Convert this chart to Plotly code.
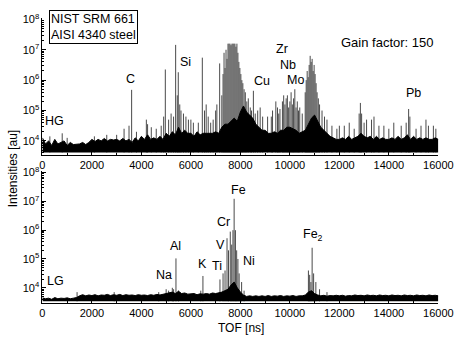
import plotly.graph_objects as go

W, H = 469, 339

# ---------------- data (log10 of intensity, TOF in ns) ----------------
GRID_STEP = 125
top_noise_log = [4.1, 3.9, 4.0, 3.85, 4.05, 3.9, 3.95, 4.0, 3.85, 3.95, 3.88, 3.9,
                 3.9, 3.95, 3.88, 3.95, 4.05, 3.98, 4.05, 4.0, 4.08, 4.0, 4.05, 4.03,
                 4.05, 4.0, 4.08, 4.0, 4.05, 3.95, 4.1, 4.0, 4.15, 4.05, 4.2, 4.05,
                 4.1, 4.05, 4.15, 4.05, 4.25, 4.15, 4.3, 4.2, 4.45, 4.25, 4.35, 4.25,
                 4.25, 4.15, 4.3, 4.2, 4.25, 4.25, 4.25, 4.25, 4.3, 4.25, 4.45, 4.55,
                 4.55, 4.65, 4.75, 4.65, 4.95, 5.15, 4.95, 4.85, 4.75, 4.55, 4.45, 4.35,
                 4.35, 4.25, 4.25, 4.3, 4.25, 4.35, 4.35, 4.45, 4.45, 4.4, 4.35, 4.25,
                 4.3, 4.35, 4.55, 4.75, 4.85, 4.65, 4.45, 4.35, 4.25, 4.15, 4.1, 4.05,
                 4.05, 4.1, 4.05, 4.15, 4.05, 4.1, 4.15, 4.25, 4.15, 4.1, 4.15, 4.05,
                 4.15, 4.05, 4.1, 4.05, 4.05, 4.1, 4.05, 4.15, 4.05, 4.1, 4.2, 4.05,
                 4.15, 4.05, 4.1, 4.05, 4.1, 4.05, 4.05, 4.1, 4.05]
top_floor_log = 3.62

top_peak_tof = [300, 800, 1000, 2100, 2600, 3000, 3300, 3500, 3605, 3800, 4200, 4250, 4400,
                4600, 4800, 4900, 4967, 5100, 5200, 5300, 5384, 5450, 5490, 5550, 5600, 5700,
                5800, 5900, 6000, 6100, 6300, 6462, 6550, 6618, 6700, 6800, 6900, 7000, 7050,
                7163, 7250, 7300, 7340, 7380, 7420, 7460, 7500, 7540, 7580, 7620, 7660, 7700,
                7740, 7780, 7820, 7860, 7900, 7940, 7980, 8020, 8060, 8100, 8150, 8200, 8260,
                8320, 8400, 8450, 8526, 8600, 8700, 8800, 8900, 9100, 9250, 9300, 9433, 9500,
                9550, 9600, 9700, 9750, 9800, 9850, 9900, 9950, 10000, 10050, 10100, 10150,
                10200, 10250, 10300, 10350, 10400, 10500, 10620, 10660, 10700, 10740, 10780,
                10820, 10860, 10900, 10940, 10980, 11020, 11060, 11100, 11150, 11200, 11300,
                11400, 11500, 11700, 11900, 12000, 12200, 12400, 12600, 12800, 12850, 12900,
                13000, 13100, 13300, 13400, 13600, 13800, 14000, 14200, 14500, 14700, 14800,
                14850, 15100, 15300, 15500, 15600, 15800, 15900]
top_peak_log = [4.15, 4.25, 4.1, 4.15, 4.2, 4.2, 4.4, 4.5, 5.68, 4.3, 4.7, 4.55, 4.45,
                4.4, 4.5, 4.8, 6.35, 4.7, 4.9, 4.8, 7.16, 5.5, 6.26, 5.2, 5.0, 4.9,
                4.8, 4.7, 4.7, 4.6, 4.6, 6.74, 5.0, 5.2, 4.8, 4.6, 4.7, 5.0, 5.2,
                6.55, 5.5, 6.2, 6.9, 6.4, 7.0, 6.7, 7.2, 7.2, 7.2, 7.15, 7.2, 7.2,
                7.2, 7.2, 7.1, 7.2, 6.9, 6.6, 6.4, 6.2, 6.0, 5.9, 5.7, 5.6, 5.3,
                5.4, 5.1, 5.0, 5.65, 4.9, 5.0, 5.1, 4.8, 4.8, 4.8, 5.0, 5.3, 5.1,
                4.9, 5.05, 5.3, 5.5, 5.2, 5.4, 5.5, 5.1, 5.3, 5.6, 5.2, 5.4,
                5.7, 5.1, 5.3, 5.0, 5.1, 4.9, 5.6, 6.0, 6.3, 6.1, 6.5,
                6.8, 6.6, 6.7, 6.3, 6.5, 6.2, 5.9, 5.6, 5.4, 5.2, 5.0,
                4.8, 4.7, 4.5, 4.4, 4.5, 4.5, 4.6, 4.4, 4.9, 5.25, 4.9,
                4.6, 4.7, 4.7, 4.8, 4.5, 4.5, 4.4, 4.6, 4.5, 4.6, 5.05,
                4.8, 4.4, 4.5, 4.7, 4.5, 4.5, 4.4]

bot_noise_log = [3.65, 3.62, 3.64, 3.6, 3.66, 3.62, 3.64, 3.63, 3.65, 3.62, 3.64, 3.66,
                 3.72, 3.76, 3.72, 3.75, 3.73, 3.76, 3.72, 3.75, 3.74, 3.77, 3.73, 3.76,
                 3.74, 3.77, 3.73, 3.76, 3.74, 3.75, 3.73, 3.76, 3.74, 3.75, 3.73, 3.76,
                 3.74, 3.77, 3.75, 3.78, 3.8, 3.82, 3.85, 3.8, 3.88, 3.8, 3.82, 3.78,
                 3.78, 3.8, 3.76, 3.79, 3.78, 3.8, 3.78, 3.82, 3.8, 3.82, 3.85, 3.9,
                 3.95, 4.1, 4.2, 4.0, 3.85, 3.75, 3.7, 3.72, 3.7, 3.72, 3.7, 3.72,
                 3.7, 3.73, 3.7, 3.72, 3.71, 3.73, 3.7, 3.72, 3.71, 3.73, 3.7, 3.72,
                 3.72, 3.75, 3.85, 3.9, 3.8, 3.75, 3.72, 3.74, 3.71, 3.73, 3.72, 3.74,
                 3.72, 3.74, 3.71, 3.73, 3.72, 3.75, 3.73, 3.74, 3.72, 3.75, 3.73, 3.74,
                 3.72, 3.75, 3.73, 3.74, 3.72, 3.75, 3.73, 3.74, 3.72, 3.75, 3.73, 3.74,
                 3.72, 3.75, 3.73, 3.74, 3.72, 3.75, 3.73, 3.74, 3.72]
bot_floor_log = 3.53

bot_peak_tof = [1400, 2900, 4700, 5000, 5100, 5250, 5300, 5397, 5500, 6400, 6487, 7175, 7300,
                7380, 7460, 7520, 7592, 7650, 7700, 7748, 7800, 7850, 7900, 7950, 8050, 8150,
                10750, 10800, 10850, 10900, 10960, 11050, 11200, 11500]
bot_peak_log = [3.85, 3.85, 3.85, 3.95, 3.9, 4.0, 3.95, 5.02, 3.9, 3.9, 4.41, 4.29, 4.5,
                4.6, 5.72, 5.3, 5.95, 5.5, 6.0, 7.09, 6.0, 5.3, 5.0, 4.5, 4.2, 3.9,
                4.6, 4.45, 4.2, 5.39, 4.5, 4.2, 3.95, 3.85]

top_labels = ["HG", "C", "Si", "Cu", "Zr", "Nb", "Mo", "Pb"]
top_label_tof = [480, 3570, 5773, 8888, 9693, 9927, 10212, 15000]
top_label_log = [4.64, 6.05, 6.6, 5.96, 7.02, 6.51, 6.0, 5.57]

bot_labels = ["LG", "Na", "Al", "K", "Ti", "V", "Cr", "Fe", "Ni", "Fe<sub>2</sub>"]
bot_label_tof = [518, 4917, 5384, 6474, 7058, 7214, 7330, 7914, 8342, 10950]
bot_label_log = [4.22, 4.43, 5.46, 4.83, 4.76, 5.5, 6.27, 7.41, 4.93, 5.83]

x_ticks = [0, 2000, 4000, 6000, 8000, 10000, 12000, 14000, 16000]
x_ticktext = ["0", "2000", "4000", "6000", "8000", "10000", "12000", "14000", "16000"]
y_ticks = [1e4, 1e5, 1e6, 1e7, 1e8]
y_ticktext = ["10<sup>4</sup>", "10<sup>5</sup>", "10<sup>6</sup>", "10<sup>7</sup>", "10<sup>8</sup>"]

FONT = "Liberation Sans, Arial, sans-serif"

fig = go.Figure()


def add_panel(noise_log, floor_log, peak_tof, peak_log, xa, ya):
    grid = [i * GRID_STEP for i in range(len(noise_log))]
    sx, sy = [], []
    for t, v in zip(peak_tof, peak_log):
        sx += [t, t, None]
        sy += [10 ** floor_log, 10 ** v, None]
    fig.add_trace(go.Scatter(x=sx, y=sy, mode="lines", line=dict(color="#4a4a4a", width=1),
                             xaxis=xa, yaxis=ya, hoverinfo="skip", showlegend=False))
    fig.add_trace(go.Scatter(x=grid, y=[10 ** floor_log] * len(grid), mode="lines",
                             line=dict(color="black", width=0), xaxis=xa, yaxis=ya,
                             hoverinfo="skip", showlegend=False))
    fig.add_trace(go.Scatter(x=grid, y=[10 ** v for v in noise_log], mode="lines",
                             line=dict(color="black", width=1), fill="tonexty",
                             fillcolor="black", xaxis=xa, yaxis=ya,
                             hoverinfo="skip", showlegend=False))


add_panel(top_noise_log, top_floor_log, top_peak_tof, top_peak_log, "x", "y")
add_panel(bot_noise_log, bot_floor_log, bot_peak_tof, bot_peak_log, "x2", "y2")

x0, x1 = 41.0 / W, 452.7 / W
axis_common = dict(showline=True, linecolor="black", linewidth=1, ticks="inside",
                   ticklen=4, tickcolor="black", showgrid=False, zeroline=False,
                   tickfont=dict(family=FONT, size=11, color="black"))
xminor = dict(ticks="inside", ticklen=2, dtick=1000, tickcolor="black")
yminor = dict(ticks="inside", ticklen=2, dtick="D1", tickcolor="black")

fig.update_layout(
    width=W, height=H, margin=dict(l=0, r=0, t=0, b=0),
    paper_bgcolor="white", plot_bgcolor="white", showlegend=False,
    xaxis=dict(domain=[x0, x1], range=[0, 16000], anchor="y", tickvals=x_ticks,
               ticktext=x_ticktext, minor=xminor, **axis_common),
    yaxis=dict(domain=[1 - 151 / H, 1 - 11.7 / H], type="log", range=[3.54, 8.03],
               anchor="x", tickvals=y_ticks, ticktext=y_ticktext, minor=yminor,
               **axis_common),
    xaxis2=dict(domain=[x0, x1], range=[0, 16000], anchor="y2", tickvals=x_ticks,
                ticktext=x_ticktext, minor=xminor, **axis_common),
    yaxis2=dict(domain=[1 - 302.3 / H, 1 - 167 / H], type="log", range=[3.47, 8.07],
                anchor="x2", tickvals=y_ticks, ticktext=y_ticktext, minor=yminor,
                **axis_common),
)

ann = []
for t, xv, yv in zip(top_labels, top_label_tof, top_label_log):
    ann.append(dict(text=t, x=xv, y=yv, xref="x", yref="y", showarrow=False,
                    xanchor="center", yanchor="middle",
                    font=dict(family=FONT, size=12.5, color="black")))
for t, xv, yv in zip(bot_labels, bot_label_tof, bot_label_log):
    ann.append(dict(text=t, x=xv, y=yv, xref="x2", yref="y2", showarrow=False,
                    xanchor="center", yanchor="middle",
                    font=dict(family=FONT, size=12.5, color="black")))
ann.append(dict(text="Gain factor: 150", x=400 / W, y=1 - 36 / H, xref="paper", yref="paper",
                xanchor="center", yanchor="middle",
                showarrow=False, font=dict(family=FONT, size=13, color="black")))
ann.append(dict(text="NIST SRM 661<br>AISI 4340 steel", x=48 / W, y=1 - 3 / H,
                xref="paper", yref="paper", xanchor="left", yanchor="top", align="left",
                showarrow=False, bordercolor="black", borderwidth=1, borderpad=1,
                bgcolor="white", font=dict(family=FONT, size=12.5, color="black")))
ann.append(dict(text="Intensities [au]", x=10 / W, y=1 - 165 / H, xref="paper", yref="paper",
                xanchor="center", yanchor="middle",
                textangle=-90, showarrow=False, font=dict(family=FONT, size=12, color="black")))
ann.append(dict(text="TOF [ns]", x=248 / W, y=1 - 328 / H, xref="paper", yref="paper",
                xanchor="center", yanchor="middle",
                showarrow=False, font=dict(family=FONT, size=12, color="black")))
fig.update_layout(annotations=ann)

fig.write_html("out.html")
